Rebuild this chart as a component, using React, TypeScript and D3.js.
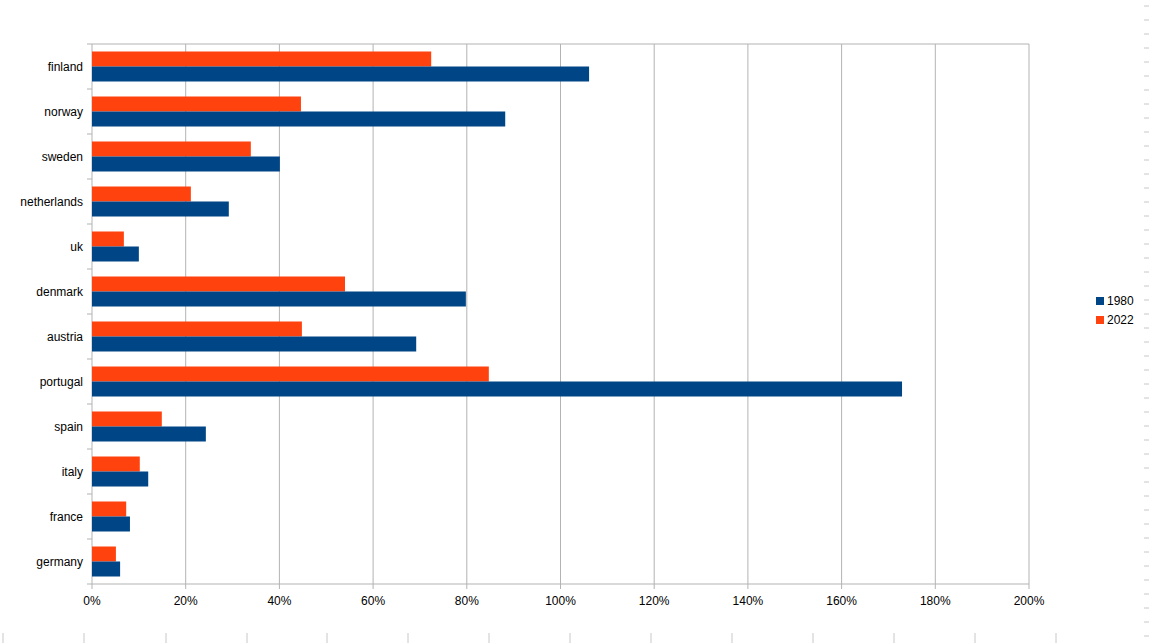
import * as d3 from "d3";

const categories = [
  "finland",
  "norway",
  "sweden",
  "netherlands",
  "uk",
  "denmark",
  "austria",
  "portugal",
  "spain",
  "italy",
  "france",
  "germany",
];
const values1980 = [106.1, 88.2, 40.1, 29.2, 10.0, 79.8, 69.2, 172.9, 24.3, 12.0, 8.1, 6.0];
const values2022 = [72.4, 44.6, 33.9, 21.1, 6.8, 54.0, 44.8, 84.7, 14.9, 10.2, 7.3, 5.1];
const xTicks = [0, 20, 40, 60, 80, 100, 120, 140, 160, 180, 200];
const seriesNames = ["1980", "2022"];

const W = 1149;
const H = 643;
const BLUE = "#004586";
const ORANGE = "#ff420e";
const GRID = "#b3b3b3";
const FONT = "'Liberation Sans', Arial, sans-serif";

export default function App() {
  const x = d3.scaleLinear().domain([0, 200]).range([92, 1029]);
  const y = d3.scaleBand().domain(categories).range([44, 584]);
  const bw = y.bandwidth();
  const barH = 15;
  const pad = (bw - barH * 2) / 2;

  // faint sheet markers around the edges of the screenshot
  const sideDashes = d3.range(6, H, 14);
  const bottomTicks = [3, 84, 166, 247, 327, 408, 489, 570, 651, 732, 813, 894, 975, 1056];

  return (
    <svg
      width={W}
      height={H}
      style={{ position: "absolute", left: 0, top: 0, background: "#fff" }}
      fontFamily={FONT}
    >
      <rect width={W} height={H} fill="#fff" />
      {sideDashes.map((d, i) => (
        <line key={"sd" + i} x1={1144} x2={1149} y1={d} y2={d} stroke="#c8c8c8" />
      ))}
      {bottomTicks.map((d, i) => (
        <line key={"bt" + i} x1={d} x2={d} y1={633} y2={643} stroke="#c8c8c8" />
      ))}

      {/* grid */}
      {xTicks.map((t) => (
        <line key={"g" + t} x1={x(t)} x2={x(t)} y1={44} y2={589} stroke={GRID} />
      ))}
      <line x1={92} x2={1029} y1={44} y2={44} stroke={GRID} />
      <line x1={92} x2={1029} y1={584} y2={584} stroke={GRID} />

      {/* category ticks */}
      {categories.map((c) => (
        <line key={"t" + c} x1={87} x2={92} y1={y(c)!} y2={y(c)!} stroke={GRID} />
      ))}
      <line x1={87} x2={92} y1={584} y2={584} stroke={GRID} />

      {/* bars */}
      {categories.map((c, i) => (
        <g key={c}>
          <rect
            x={x(0)}
            y={y(c)! + pad}
            width={x(values2022[i]) - x(0)}
            height={barH}
            fill={ORANGE}
          />
          <rect
            x={x(0)}
            y={y(c)! + pad + barH}
            width={x(values1980[i]) - x(0)}
            height={barH}
            fill={BLUE}
          />
          <text
            x={83}
            y={y(c)! + bw / 2}
            dy="0.35em"
            textAnchor="end"
            fontSize={12}
            fill="#000"
          >
            {c}
          </text>
        </g>
      ))}

      {/* x labels */}
      {xTicks.map((t) => (
        <text key={"l" + t} x={x(t)} y={605} textAnchor="middle" fontSize={12} fill="#000">
          {t + "%"}
        </text>
      ))}

      {/* legend */}
      {seriesNames.map((s, i) => (
        <g key={s} transform={`translate(1096, ${297 + i * 19})`}>
          <rect x={0} y={0} width={8} height={8} fill={i === 0 ? BLUE : ORANGE} />
          <text x={11} y={4} dy="0.35em" fontSize={12} fill="#000">
            {s}
          </text>
        </g>
      ))}
    </svg>
  );
}
